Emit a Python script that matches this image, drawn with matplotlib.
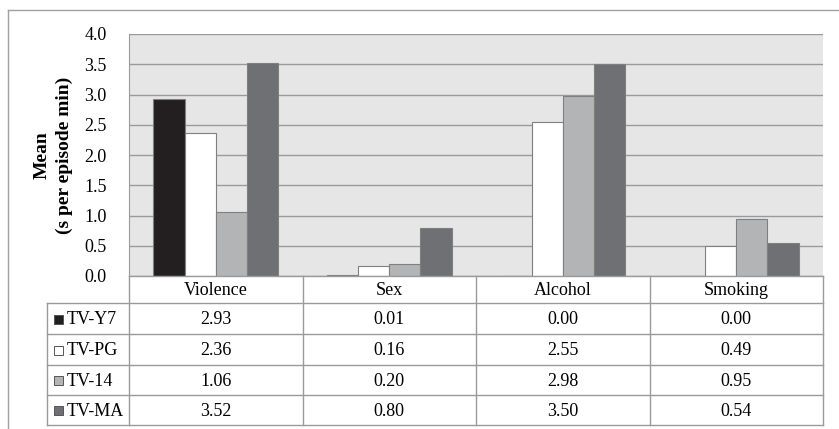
import matplotlib.pyplot as plt
import numpy as np

# --- data ---
categories = ["Violence", "Sex", "Alcohol", "Smoking"]
ratings = ["TV-Y7", "TV-PG", "TV-14", "TV-MA"]
tv_y7 = [2.93, 0.01, 0.00, 0.00]
tv_pg = [2.36, 0.16, 2.55, 0.49]
tv_14 = [1.06, 0.20, 2.98, 0.95]
tv_ma = [3.52, 0.80, 3.50, 0.54]
series = [tv_y7, tv_pg, tv_14, tv_ma]
colors = ["#231f20", "#ffffff", "#b3b4b6", "#6f7073"]
yticks = [0.0, 0.5, 1.0, 1.5, 2.0, 2.5, 3.0, 3.5, 4.0]

W, H = 839, 429
plt.rcParams["font.family"] = ["Liberation Serif", "DejaVu Serif"]
fig = plt.figure(figsize=(W / 100, H / 100), dpi=100)

# pixel layout of plot area / table
px_left, px_right = 129, 823
px_top, px_bottom = 34, 276
row_edges = [276, 303, 334, 365, 395, 425]
leg_left = 47
line_col = "#9a9a9a"
fs = 13

# --- chart axes ---
ax = fig.add_axes([px_left / W, 1 - px_bottom / H,
                   (px_right - px_left) / W, (px_bottom - px_top) / H])
ax.set_facecolor("#e6e6e6")
x = np.arange(len(categories))
bw = 0.18
for i, (vals, c) in enumerate(zip(series, colors)):
    ax.bar(x + (i - 1.5) * bw, vals, bw, color=c, edgecolor="#7f7f7f",
           linewidth=0.8, zorder=3)
ax.set_xlim(-0.5, len(categories) - 0.5)
ax.set_ylim(0, 4.0)
ax.set_yticks(yticks)
ax.set_yticklabels([f"{v:.1f}" for v in yticks], fontsize=fs)
ax.tick_params(axis="y", length=0, pad=16)
ax.set_xticks([])
ax.grid(axis="y", color=line_col, linewidth=1, zorder=0)
for s in ("top", "right", "bottom"):
    ax.spines[s].set_visible(False)
ax.spines["left"].set_color(line_col)
ax.set_ylabel("Mean\n(s per episode min)", fontsize=14, fontweight="bold",
              labelpad=8, linespacing=1.4)

# --- overlay for data table and frame ---
ov = fig.add_axes([0, 0, 1, 1], facecolor="none")
ov.set_xlim(0, W)
ov.set_ylim(H, 0)
ov.axis("off")

# outer frame (top and left visible)
ov.plot([8, W + 5], [10, 10], color="#a0a0a0", lw=1)
ov.plot([8, 8], [10, H + 5], color="#a0a0a0", lw=1)

col_w = (px_right - px_left) / len(categories)
col_edges = [px_left + k * col_w for k in range(len(categories) + 1)]

# horizontal lines
ov.plot([px_left, px_right], [row_edges[0]] * 2, color=line_col, lw=1)
for y in row_edges[1:]:
    ov.plot([leg_left, px_right], [y, y], color=line_col, lw=1)
# vertical lines
for xe in col_edges:
    ov.plot([xe, xe], [row_edges[0], row_edges[-1]], color=line_col, lw=1)
ov.plot([leg_left, leg_left], [row_edges[1], row_edges[-1]], color=line_col, lw=1)

# header
for k, cat in enumerate(categories):
    ov.text((col_edges[k] + col_edges[k + 1]) / 2,
            (row_edges[0] + row_edges[1]) / 2 + 1, cat,
            ha="center", va="center", fontsize=fs)

# rows
for r, (name, vals, c) in enumerate(zip(ratings, series, colors)):
    yc = (row_edges[r + 1] + row_edges[r + 2]) / 2 + 1
    ov.add_patch(plt.Rectangle((54, yc - 5), 9, 9, facecolor=c,
                               edgecolor="#555555", lw=0.7))
    ov.text(67, yc, name, ha="left", va="center", fontsize=fs)
    for k, v in enumerate(vals):
        ov.text((col_edges[k] + col_edges[k + 1]) / 2, yc, f"{v:.2f}",
                ha="center", va="center", fontsize=fs)

fig.savefig("out.png", dpi=100)
